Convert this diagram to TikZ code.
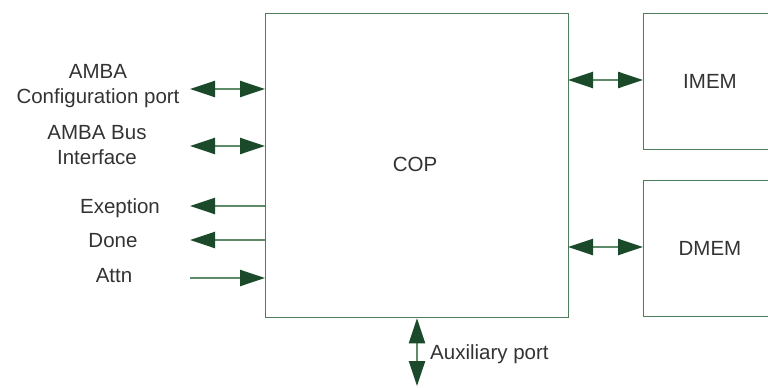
\documentclass[tikz,border=0pt]{standalone}
\usepackage{fontspec}
\setmainfont{Liberation Sans}
\usetikzlibrary{arrows.meta}
\definecolor{boxc}{HTML}{4F7D5A}
\definecolor{tipc}{HTML}{1B4A2A}
\definecolor{shaftc}{HTML}{5E8C68}
\definecolor{txtc}{HTML}{333333}
\tikzset{
  blk/.style={draw=boxc, line width=1.3pt, fill=white},
  lbl/.style={text=txtc, font=\fontsize{20.5}{25}\selectfont, inner sep=0pt},
  sig/.style={draw=shaftc, line width=2.4pt, {Triangle[length=25pt,width=16pt,fill=tipc,color=tipc]}-{Triangle[length=25pt,width=16pt,fill=tipc,color=tipc]}},
  sigl/.style={draw=shaftc, line width=2.4pt, {Triangle[length=25pt,width=16pt,fill=tipc,color=tipc]}-},
  sigr/.style={draw=shaftc, line width=2.4pt, -{Triangle[length=25pt,width=16pt,fill=tipc,color=tipc]}},
}
\begin{document}
\begin{tikzpicture}[x=1pt,y=-1pt]
\useasboundingbox (0,0) rectangle (768,388);
\begin{scope}
\clip (0,0) rectangle (768,388);
\node[blk, minimum width=303pt, minimum height=304pt, anchor=north west] (cop) at (265,13) {};
\node[lbl] at (415,164) {COP};
\node[blk, minimum width=160pt, minimum height=136pt, anchor=north west] (imem) at (643,13) {};
\node[blk, minimum width=160pt, minimum height=136pt, anchor=north west] (dmem) at (643,180) {};
\end{scope}
\node[lbl] (imemt) at (710,81) {IMEM};
\node[lbl] (dmemt) at (710,248) {DMEM};

\coordinate (c1) at (190,89);
\coordinate (c2) at (190,146);
\coordinate (c3) at (190,206);
\coordinate (c4) at (190,240);
\coordinate (c5) at (190,278);
\draw[sig] (c1) -- (cop.west |- c1);
\draw[sig] (c2) -- (cop.west |- c2);
\draw[sigl] (c3) -- (cop.west |- c3);
\draw[sigl] (c4) -- (cop.west |- c4);
\draw[sigr] (c5) -- (cop.west |- c5);

\coordinate (r1) at (568,80);
\coordinate (r2) at (568,247);
\draw[sig] (r1) -- (imem.west |- r1);
\draw[sig] (r2) -- (dmem.west |- r2);

\coordinate (aux) at (417,386);
\draw[sig] (cop.south -| aux) -- (aux);

\node[lbl, align=center] (l1) at (98,86.5) {AMBA\\Configuration port};
\node[lbl, align=center] (l2) at (97,145) {AMBA Bus\\Interface};
\node[lbl] (l3) at (120,208) {Exeption};
\node[lbl] (l4) at (113,241) {Done};
\node[lbl] (l5) at (114,275.5) {Attn};
\node[lbl, anchor=west] (l6) at (430,354.5) {Auxiliary port};
\end{tikzpicture}
\end{document}
